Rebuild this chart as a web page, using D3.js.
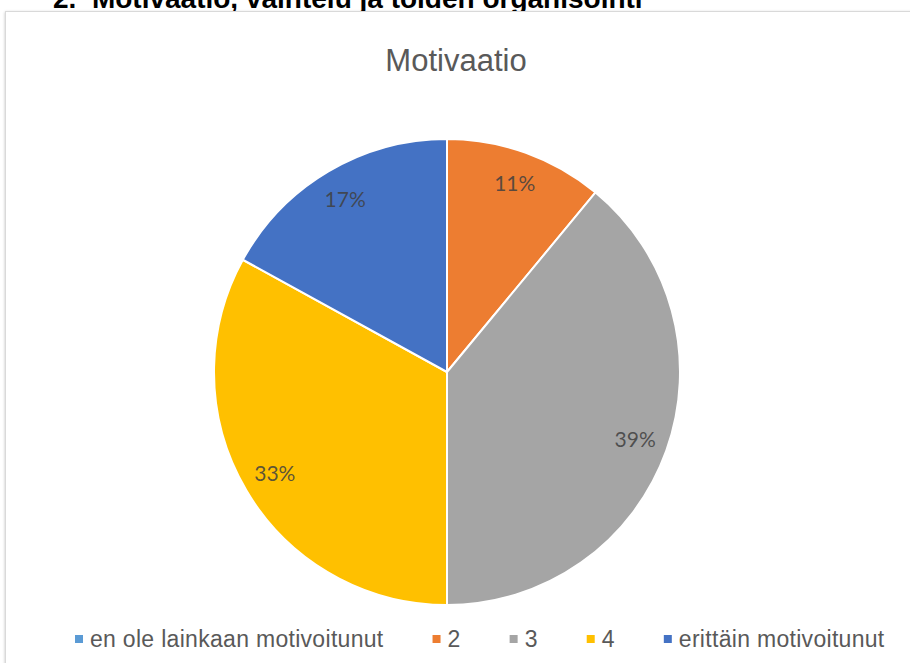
<!DOCTYPE html>
<html>
<head>
<meta charset="utf-8">
<script src="https://cdn.jsdelivr.net/npm/d3@7"></script>
<style>
  html, body { margin: 0; padding: 0; background: #fff; }
  svg { display: block; }
</style>
</head>
<body>
<svg id="chart" width="910" height="663"></svg>
<script>
// Survey answers: "Motivaatio" (share of respondents, %)
const categories = ["en ole lainkaan motivoitunut", "2", "3", "4", "erittäin motivoitunut"];
const values = [0, 11, 39, 33, 17];
const colors = ["#5B9BD5", "#ED7D31", "#A5A5A5", "#FFC000", "#4472C4"];
const heading = "2.  Motivaatio, vaihtelu ja töiden organisointi";
const chartTitle = "Motivaatio";

const svg = d3.select("#chart");
const W = 910, H = 663;

// Soft shadow for the chart frame
const defs = svg.append("defs");
const f = defs.append("filter").attr("id", "frameShadow")
  .attr("x", "-5%").attr("y", "-5%").attr("width", "110%").attr("height", "110%");
f.append("feGaussianBlur").attr("in", "SourceAlpha").attr("stdDeviation", 1.5).attr("result", "b");
f.append("feOffset").attr("in", "b").attr("dx", 0).attr("dy", 1).attr("result", "o");
f.append("feComponentTransfer").attr("in", "o").attr("result", "s")
  .append("feFuncA").attr("type", "linear").attr("slope", 0.25);
const m = f.append("feMerge");
m.append("feMergeNode").attr("in", "s");
m.append("feMergeNode").attr("in", "SourceGraphic");

// Document heading above the chart (runs past the top of the page)
svg.append("text")
  .attr("x", 53).attr("y", 8)
  .attr("font-family", "'Liberation Sans', Arial, sans-serif")
  .attr("font-weight", "bold")
  .attr("font-size", 28)
  .attr("fill", "#000")
  .attr("xml:space", "preserve")
  .style("white-space", "pre")
  .text(heading);

// Chart frame
svg.append("rect")
  .attr("x", 5.5).attr("y", 11.5)
  .attr("width", W + 40).attr("height", H + 40)
  .attr("fill", "#fff")
  .attr("stroke", "#d9d9d9")
  .attr("stroke-width", 1)
  .attr("filter", "url(#frameShadow)");

// Chart title
svg.append("text")
  .attr("x", 456).attr("y", 71)
  .attr("text-anchor", "middle")
  .attr("font-family", "'Liberation Sans', Arial, sans-serif")
  .attr("font-size", 31)
  .attr("fill", "#595959")
  .text(chartTitle);

// Pie
const cx = 447, cy = 372, R = 233, labelR = 200;
const data = categories.map((c, i) => ({ name: c, value: values[i], color: colors[i] }));
const pie = d3.pie().value(d => d.value).sort(null);
const arcs = pie(data);
const arc = d3.arc().innerRadius(0).outerRadius(R);
const labelArc = d3.arc().innerRadius(labelR).outerRadius(labelR);

const g = svg.append("g").attr("transform", `translate(${cx},${cy})`);
g.selectAll("path.slice")
  .data(arcs.filter(a => a.data.value > 0))
  .join("path")
  .attr("class", "slice")
  .attr("d", arc)
  .attr("fill", d => d.data.color)
  .attr("stroke", "#fff")
  .attr("stroke-width", 2)
  .attr("stroke-linejoin", "round");

const total = d3.sum(values);
g.selectAll("text.lbl")
  .data(arcs.filter(a => a.data.value > 0))
  .join("text")
  .attr("class", "lbl")
  .attr("transform", d => `translate(${labelArc.centroid(d)})`)
  .attr("text-anchor", "middle")
  .attr("dy", "0.36em")
  .attr("font-family", "Lato, 'Open Sans', sans-serif")
  .attr("font-size", 21)
  .attr("fill", "#404040")
  .attr("fill-opacity", 0.85)
  .text(d => Math.round(d.data.value / total * 100) + "%");

// Legend
const legend = svg.append("g").attr("class", "legend");
let lx = 75;
const ly = 647;
data.forEach(d => {
  legend.append("rect")
    .attr("x", lx).attr("y", ly - 12)
    .attr("width", 8).attr("height", 8)
    .attr("fill", d.color);
  const t = legend.append("text")
    .attr("x", lx + 15).attr("y", ly)
    .attr("font-family", "'Liberation Sans', Arial, sans-serif")
    .attr("font-size", 23)
    .attr("letter-spacing", 0.3)
    .attr("fill", "#595959")
    .text(d.name);
  lx += 15 + t.node().getComputedTextLength() + 49;
});
</script>
</body>
</html>
